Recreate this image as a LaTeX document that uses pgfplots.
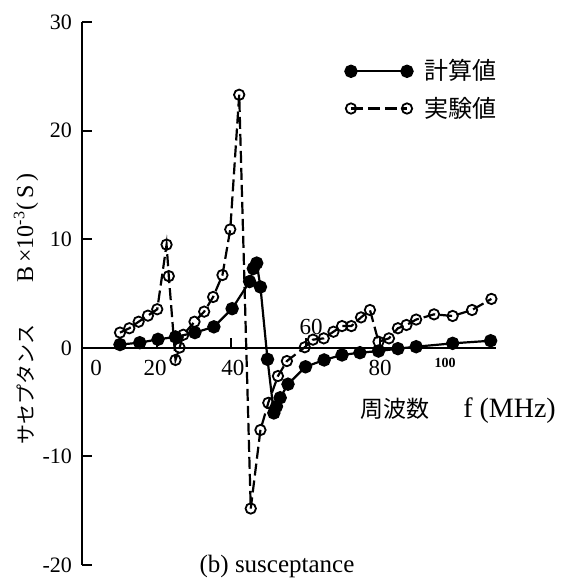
\documentclass[border=0pt]{standalone}
\usepackage{pgfplots}
\pgfplotsset{compat=1.18}
\usepackage{fontspec}
\setmainfont{Liberation Serif}
\newfontfamily\cjk{Noto Sans CJK JP}
\begin{document}
\begin{tikzpicture}
\path[use as bounding box] (0,0) rectangle (280.5pt,289.5pt);
\begin{axis}[
  at={(41pt,7pt)}, anchor=south west,
  scale only axis, width=206.75pt, height=271.5pt,
  xmin=0, xmax=111, ymin=-20, ymax=30,
  axis y line*=left, axis x line*=middle,
  axis line style={line width=1.2pt},
  xtick={20,40,60,80,100}, xticklabel=\empty,
  ytick={-20,-10,0,10,20,30},
  tick align=inside, major tick length=5pt,
  tick style={line width=1pt, black},
  /pgf/number format/assume math mode=true,
  yticklabel style={font=\fontsize{11}{12}\selectfont, xshift=-1.5pt},
  clip=false,
  legend style={draw=none, fill=none, at={(0.636,0.875)}, anchor=west,
    inner sep=0pt, row sep=5pt, column sep=5pt, font=\fontsize{12}{13}\selectfont\cjk,
    nodes={inner sep=1pt}},
  legend cell align=left,
  legend image code/.code={\draw[#1] plot coordinates {(0pt,0pt) (28pt,0pt)};},
]
\addplot[black, line width=1.1pt, mark=*, mark size=2.8pt, mark options={solid, fill=black}] coordinates {
(10.2,0.3) (15.5,0.47) (20.4,0.78) (25.1,1.0) (30.3,1.4) (35.4,1.93) (40.3,3.6)
(45.0,6.1) (46.0,7.3) (46.9,7.8) (47.9,5.6) (49.8,-1.06) (51.5,-6.0) (52.2,-5.4)
(53.2,-4.6) (55.3,-3.35) (60.0,-1.75) (65.0,-1.12) (69.8,-0.66) (74.6,-0.45)
(79.6,-0.3) (84.8,-0.08) (89.7,0.1) (99.5,0.41) (109.7,0.65)
};
\addlegendentry{計算値}
\addplot[black, line width=1.1pt, dash pattern=on 6pt off 2.5pt, mark=o, mark size=2.6pt, mark options={solid, fill=white, line width=0.9pt}] coordinates {
(10.2,1.4) (12.7,1.8) (15.2,2.4) (17.7,2.96) (20.2,3.55) (22.7,9.5) (23.3,6.6)
(25.1,-1.12) (26.2,0.02) (27.2,1.2) (30.2,2.4) (32.8,3.33) (35.2,4.68) (37.7,6.7)
(39.8,10.9) (42.2,23.3) (45.3,-14.8) (47.9,-7.57) (50.0,-5.07) (52.6,-2.6)
(55.0,-1.22) (59.8,0.05) (62.0,0.75) (64.9,0.87) (67.5,1.48) (69.8,2.0) (72.3,2.0)
(74.9,2.8) (77.3,3.48) (79.6,0.56) (82.4,0.87) (84.8,1.8) (87.1,2.1) (89.7,2.6)
(94.5,3.08) (99.5,2.93) (104.7,3.48) (109.9,4.5)
};
\addlegendentry{実験値}
\begin{scope}[font=\fontsize{11.5}{12}\selectfont]
\node at (axis cs:3.8,-1.9) {0};
\node at (axis cs:19.6,-1.9) {20};
\node at (axis cs:40.5,-1.9) {40};
\node at (axis cs:61.5,1.9) {60};
\node at (axis cs:80,-1.9) {80};
\end{scope}
\node[font=\fontsize{7}{8}\selectfont\bfseries] at (axis cs:97.5,-1.4) {100};
\node[anchor=west, inner sep=0pt] at (axis cs:74.6,-5.8) {{\fontsize{11.5}{12}\selectfont\cjk 周波数}\hspace{17pt}{\fontsize{14}{15}\selectfont f (MHz)}};
\end{axis}
\node[rotate=90, inner sep=0pt] at (13pt,135pt) {{\fontsize{10}{11}\selectfont\cjk サセプタンス}\hspace{21pt}{\fontsize{12}{13}\selectfont B\,×10\textsuperscript{-3}(\,S\,)}};
\node[inner sep=0pt, font=\fontsize{12.5}{13}\selectfont] at (138.5pt,6.5pt) {(b) susceptance};
\end{tikzpicture}
\end{document}
